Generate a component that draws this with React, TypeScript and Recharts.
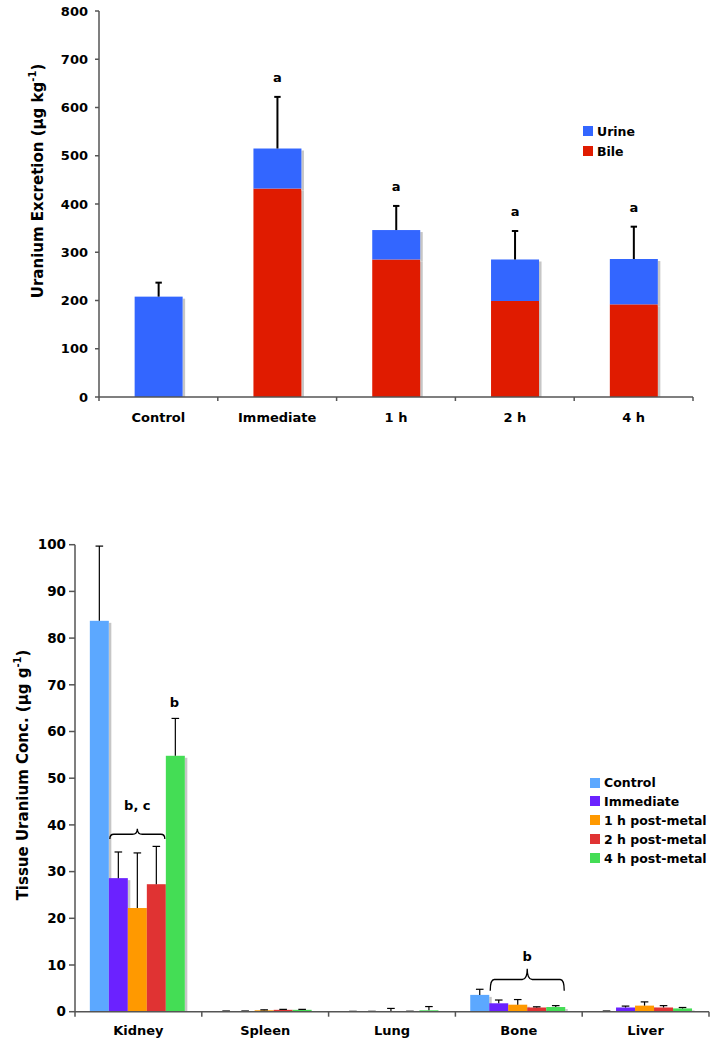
import React from 'react';
import { BarChart, Bar, XAxis, YAxis } from 'recharts';

const FONT = '"DejaVu Sans", Verdana, sans-serif';

// ---------- Top chart data ----------
const excretionCategories = ['Control', 'Immediate', '1 h', '2 h', '4 h'];
const bileValues = [0, 432, 285, 199, 192];
const urineValues = [208, 83, 61, 86, 94];
const excretionErrors = [29, 107, 50, 59, 67];
const excretionLetters = ['', 'a', 'a', 'a', 'a'];
const excretionTicks = [0, 100, 200, 300, 400, 500, 600, 700, 800];
const excretionSeries = ['Urine', 'Bile'];

// ---------- Bottom chart data ----------
const tissueCategories = ['Kidney', 'Spleen', 'Lung', 'Bone', 'Liver'];
const groupNames = ['Control', 'Immediate', '1 h post-metal', '2 h post-metal', '4 h post-metal'];
const controlConc = [83.7, 0.1, 0.05, 3.6, 0.1];
const controlErr = [16.0, 0.05, 0.03, 1.2, 0.05];
const immediateConc = [28.6, 0.1, 0.05, 1.8, 0.9];
const immediateErr = [5.6, 0.05, 0.03, 0.7, 0.3];
const h1Conc = [22.2, 0.3, 0.1, 1.5, 1.3];
const h1Err = [11.8, 0.1, 0.6, 1.1, 0.8];
const h2Conc = [27.3, 0.4, 0.05, 0.9, 0.9];
const h2Err = [8.1, 0.1, 0.05, 0.15, 0.4];
const h4Conc = [54.8, 0.4, 0.3, 1.0, 0.7];
const h4Err = [8.0, 0.1, 0.8, 0.3, 0.2];
const h4Letters = ['b', '', '', '', ''];
const tissueTicks = [0, 10, 20, 30, 40, 50, 60, 70, 80, 90, 100];

// brace annotations (start at the "Immediate" bar of the category)
const braceCategories = ['Kidney', 'Bone'];
const braceSpans = [3, 4];
const braceEnds = [37.0, 4.5];
const braceLines = [38.0, 6.9];
const braceTips = [39.2, 9.2];
const braceLabels = ['b, c', 'b'];
const braceLabelLevels = [43.2, 10.9];

// ---------- styles ----------
const AX = '#555';
const TOP_COLORS = { urine: '#3366FF', bile: '#E01B00' };
const TISSUE_COLORS = ['#5CA8FF', '#6B22FF', '#FF9900', '#E03333', '#44DD55'];
const SHADOW = '#c6c6c6';

const excretionData = excretionCategories.map((c, i) => ({
  category: c,
  bile: bileValues[i],
  urine: urineValues[i],
  err: excretionErrors[i],
}));

const tissueSeries = [controlConc, immediateConc, h1Conc, h2Conc, h4Conc];
const tissueErrSeries = [controlErr, immediateErr, h1Err, h2Err, h4Err];
const tissueData = tissueCategories.map((c, i) => {
  const row: any = { category: c };
  tissueSeries.forEach((s, k) => {
    row['v' + k] = s[i];
    row['e' + k] = tissueErrSeries[k][i];
  });
  return row;
});

const makeBarShape = (fill: string, isBase: (p: any) => boolean) => (props: any) => {
  const { x, y, width, height, payload } = props;
  if (!(height > 0)) return <g />;
  const base = isBase(payload);
  const sh = Math.max(0, height - (base ? 2 : 0));
  return (
    <g>
      <rect x={x + width} y={y + 2} width={2.5} height={sh} fill={SHADOW} />
      <rect x={x} y={y} width={width} height={height} fill={fill} />
    </g>
  );
};

const ErrLine = ({ x, y, width, height, sw, cap }: any) => {
  const cx = x + width / 2;
  return (
    <g>
      <line x1={cx} x2={cx} y1={y + height} y2={y} stroke="#000" strokeWidth={sw} />
      <line x1={cx - cap} x2={cx + cap} y1={y} y2={y} stroke="#000" strokeWidth={sw} />
    </g>
  );
};

const topErrShape = (props: any) => {
  const { x, y, width, height, index } = props;
  const letter = excretionLetters[index];
  return (
    <g>
      <ErrLine x={x} y={y} width={width} height={height} sw={2} cap={3.2} />
      {letter ? (
        <text x={x + width / 2} y={y - 15} textAnchor="middle" fontFamily={FONT} fontWeight="bold" fontSize={13} fill="#000">
          {letter}
        </text>
      ) : null}
    </g>
  );
};

const makeTissueErrShape = (k: number) => (props: any) => {
  const { x, y, width, height, index, payload } = props;
  const els: any[] = [];
  els.push(<ErrLine key="e" x={x} y={y} width={width} height={height} sw={1.2} cap={3.8} />);
  if (k === 4 && h4Letters[index]) {
    els.push(
      <text key="l" x={x + width / 2 - 1} y={y - 11} textAnchor="middle" fontFamily={FONT} fontWeight="bold" fontSize={13} fill="#000">
        {h4Letters[index]}
      </text>
    );
  }
  if (k === 1) {
    const bi = braceCategories.indexOf(payload.category);
    if (bi >= 0 && height > 0) {
      const v = payload.v1;
      const e = payload.e1;
      const ppu = height / e;
      const y0 = y + height;
      const pix = (L: number) => y0 - (L - v) * ppu;
      const x1 = x + 1;
      const x2 = x + braceSpans[bi] * width - 1;
      const xm = (x1 + x2) / 2;
      const yE = pix(braceEnds[bi]);
      const yL = pix(braceLines[bi]);
      const yT = pix(braceTips[bi]);
      const d = `M${x1},${yE} Q${x1},${yL} ${x1 + 4},${yL} L${xm - 5},${yL} Q${xm},${yL} ${xm},${yT} Q${xm},${yL} ${xm + 5},${yL} L${x2 - 4},${yL} Q${x2},${yL} ${x2},${yE}`;
      els.push(<path key="b" d={d} fill="none" stroke="#000" strokeWidth={1.3} />);
      els.push(
        <text key="bl" x={xm} y={pix(braceLabelLevels[bi])} textAnchor="middle" fontFamily={FONT} fontWeight="bold" fontSize={13} fill="#000">
          {braceLabels[bi]}
        </text>
      );
    }
  }
  return <g>{els}</g>;
};

const CatTick = (props: any) => {
  const { x, y, payload, index, nCats, plotW, tickLen, textDy, fontSize } = props;
  const half = plotW / nCats / 2;
  return (
    <g>
      <line x1={x - half} x2={x - half} y1={y} y2={y + tickLen} stroke={AX} strokeWidth={1.5} />
      {index === nCats - 1 ? (
        <line x1={x + half} x2={x + half} y1={y} y2={y + tickLen} stroke={AX} strokeWidth={1.5} />
      ) : null}
      <text x={x} y={y + textDy} textAnchor="middle" fontFamily={FONT} fontWeight="bold" fontSize={fontSize} fill="#000">
        {payload.value}
      </text>
    </g>
  );
};

const YTitle = ({ cx, cy, main, sup }: any) => (
  <text
    x={cx}
    y={cy}
    transform={`rotate(-90, ${cx}, ${cy})`}
    textAnchor="middle"
    dominantBaseline="central"
    fontFamily={FONT}
    fontWeight="bold"
    fontSize={15}
    fill="#000"
  >
    {main}
    <tspan fontSize={10} dy={-6}>{sup}</tspan>
    <tspan dy={6}>)</tspan>
  </text>
);

const LegendBox = ({ left, top, rowH, items }: any) => (
  <div style={{ position: 'absolute', left, top, fontFamily: FONT, fontWeight: 'bold', fontSize: 12.5, color: '#000' }}>
    {items.map((it: any) => (
      <div key={it.name} style={{ height: rowH, display: 'flex', alignItems: 'center', whiteSpace: 'nowrap' }}>
        <span style={{ display: 'inline-block', width: 10, height: 10, background: it.color, marginRight: 4 }} />
        <span>{it.name}</span>
      </div>
    ))}
  </div>
);

export default function App() {
  const topPlotW = 723 - 99 - 30;
  const botPlotW = 723 - 75 - 14;
  return (
    <div style={{ position: 'absolute', left: 0, top: 0, width: 723, height: 1050, background: '#fff' }}>
      <div style={{ position: 'absolute', left: 0, top: 0 }}>
        <BarChart width={723} height={440} data={excretionData} margin={{ top: 11, right: 30, left: 0, bottom: 0 }} barCategoryGap="30%">
          <XAxis
            dataKey="category"
            height={43}
            interval={0}
            tickSize={0}
            tickMargin={0}
            tickLine={false}
            axisLine={{ stroke: AX, strokeWidth: 1.5 }}
            tick={<CatTick nCats={excretionCategories.length} plotW={topPlotW} tickLen={4} textDy={25} fontSize={13} />}
          />
          <YAxis
            type="number"
            domain={[0, 800]}
            ticks={excretionTicks}
            interval={0}
            width={99}
            tickSize={4}
            tickMargin={7}
            axisLine={{ stroke: AX, strokeWidth: 1.5 }}
            tickLine={{ stroke: AX, strokeWidth: 1.5 }}
            tick={{ fill: '#000', fontSize: 13, fontWeight: 'bold', fontFamily: FONT }}
            label={<YTitle cx={38} cy={181} main="Uranium Excretion (µg kg" sup="-1" />}
          />
          <Bar dataKey="bile" stackId="t" isAnimationActive={false} shape={makeBarShape(TOP_COLORS.bile, () => true)} />
          <Bar dataKey="urine" stackId="t" isAnimationActive={false} shape={makeBarShape(TOP_COLORS.urine, (p: any) => p.bile === 0)} />
          <Bar dataKey="err" stackId="t" isAnimationActive={false} shape={topErrShape} legendType="none" />
        </BarChart>
      </div>
      <LegendBox
        left={583}
        top={121}
        rowH={20}
        items={excretionSeries.map((n) => ({ name: n, color: n === 'Urine' ? TOP_COLORS.urine : TOP_COLORS.bile }))}
      />

      <div style={{ position: 'absolute', left: 0, top: 520 }}>
        <BarChart width={723} height={530} data={tissueData} margin={{ top: 24.7, right: 14, left: 0, bottom: 0 }} barCategoryGap="11.7%" barGap={0}>
          <XAxis
            dataKey="category"
            height={38.3}
            interval={0}
            tickSize={0}
            tickMargin={0}
            tickLine={false}
            axisLine={{ stroke: AX, strokeWidth: 1.5 }}
            tick={<CatTick nCats={tissueCategories.length} plotW={botPlotW} tickLen={5} textDy={23.5} fontSize={13} />}
          />
          <YAxis
            type="number"
            domain={[0, 100]}
            ticks={tissueTicks}
            interval={0}
            width={75}
            tickSize={6}
            tickMargin={3}
            axisLine={{ stroke: AX, strokeWidth: 1.5 }}
            tickLine={{ stroke: AX, strokeWidth: 1.5 }}
            tick={{ fill: '#000', fontSize: 13.5, fontWeight: 'bold', fontFamily: FONT }}
            label={<YTitle cx={23} cy={255} main="Tissue Uranium Conc. (µg g" sup="-1" />}
          />
          {groupNames.map((g, k) => [
            <Bar key={'v' + k} dataKey={'v' + k} stackId={'s' + k} isAnimationActive={false} shape={makeBarShape(TISSUE_COLORS[k], () => true)} />,
            <Bar key={'e' + k} dataKey={'e' + k} stackId={'s' + k} isAnimationActive={false} shape={makeTissueErrShape(k)} legendType="none" />,
          ])}
        </BarChart>
      </div>
      <LegendBox
        left={590}
        top={773.1}
        rowH={18.9}
        items={groupNames.map((n, k) => ({ name: n, color: TISSUE_COLORS[k] }))}
      />
    </div>
  );
}
